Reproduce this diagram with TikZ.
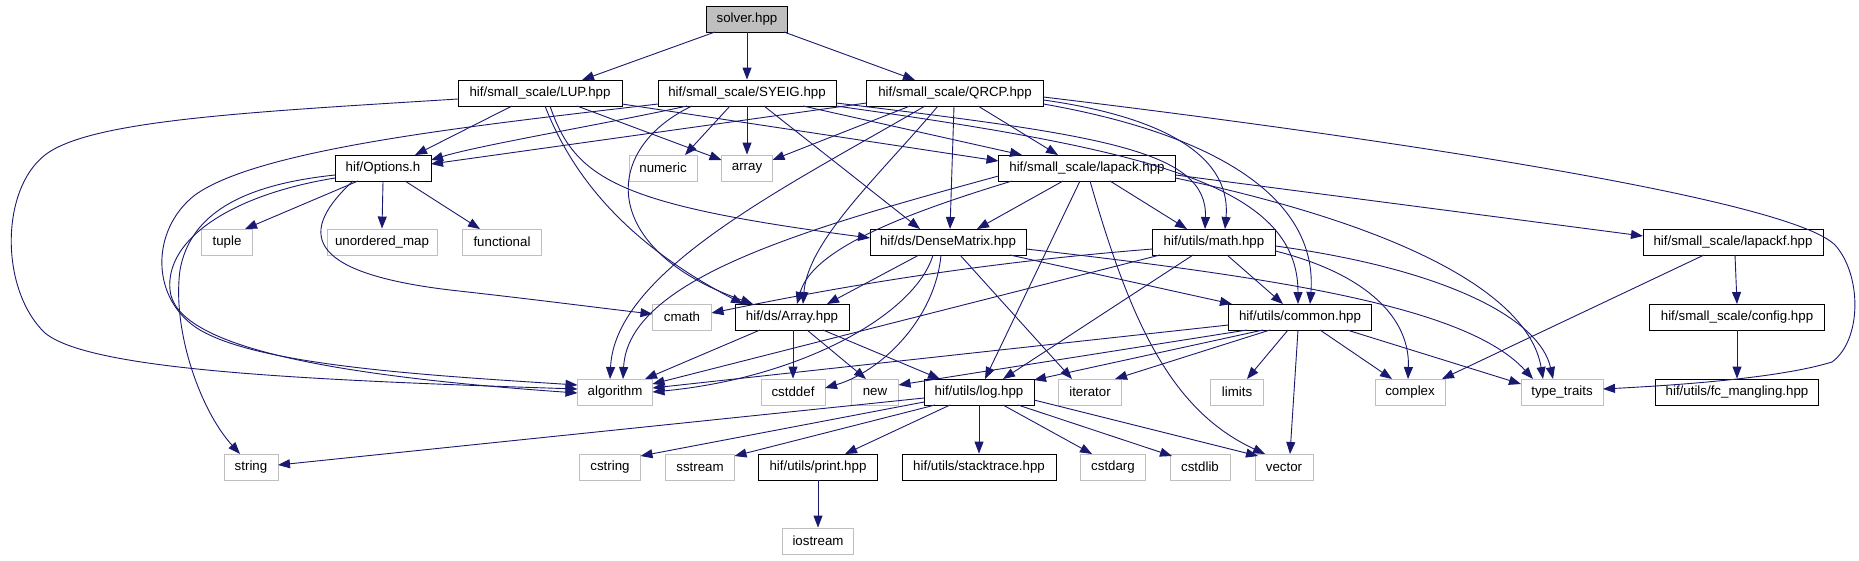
\documentclass[tikz,border=0pt]{standalone}
\usepackage{fontspec}
\setmainfont{Liberation Sans}
\usetikzlibrary{arrows.meta,calc}
\definecolor{edgeblue}{HTML}{191970}
\definecolor{boxgray}{HTML}{BFBFBF}
\newcommand\nodefs{\fontsize{13.3}{16}\selectfont}
\begin{document}
\begin{tikzpicture}[x=1pt,y=-1pt,
  base/.style={rectangle, minimum height=26pt, inner sep=0pt, font=\nodefs, line width=0.9pt},
  hdr/.style={base, draw=black, fill=white},
  sys/.style={base, draw=boxgray, fill=white},
  cur/.style={base, draw=black, fill=boxgray},
  dep/.style={draw=edgeblue, line width=0.9pt, -{Triangle[length=12pt,width=9pt]}}]
\useasboundingbox (0,0) rectangle (1859,560);
\fill[white] (0,0) rectangle (1859,560);

% nodes
\node[cur, minimum width=81] (solver) at (747,19) {solver.hpp};
\node[hdr, minimum width=164] (lup) at (540,93) {hif/small\_scale/LUP.hpp};
\node[hdr, minimum width=178] (syeig) at (747,93) {hif/small\_scale/SYEIG.hpp};
\node[hdr, minimum width=177] (qrcp) at (955,93) {hif/small\_scale/QRCP.hpp};
\node[hdr, minimum width=96] (opts) at (383,168) {hif/Options.h};
\node[sys, minimum width=68] (numeric) at (663,168) {numeric};
\node[sys, minimum width=51] (arr) at (747,168) {array};
\node[hdr, minimum width=177] (lapack) at (1087,168) {hif/small\_scale/lapack.hpp};
\node[sys, minimum width=51] (tuple) at (227,242) {tuple};
\node[sys, minimum width=110] (umap) at (382,242) {unordered\_map};
\node[sys, minimum width=79] (functional) at (502,242) {functional};
\node[hdr, minimum width=156] (dense) at (948,242) {hif/ds/DenseMatrix.hpp};
\node[hdr, minimum width=123] (mathh) at (1214,242) {hif/utils/math.hpp};
\node[hdr, minimum width=180] (lapackf) at (1733,242) {hif/small\_scale/lapackf.hpp};
\node[sys, minimum width=59] (cmath) at (682,317) {cmath};
\node[hdr, minimum width=114] (arrayh) at (792,317) {hif/ds/Array.hpp};
\node[hdr, minimum width=143] (common) at (1300,317) {hif/utils/common.hpp};
\node[hdr, minimum width=175] (config) at (1737,317) {hif/small\_scale/config.hpp};
\node[sys, minimum width=75] (algorithm) at (615,392) {algorithm};
\node[sys, minimum width=64] (cstddef) at (793,392) {cstddef};
\node[sys, minimum width=47] (cnew) at (875,392) {new};
\node[hdr, minimum width=110] (log) at (979,392) {hif/utils/log.hpp};
\node[sys, minimum width=63] (iterator) at (1090,392) {iterator};
\node[sys, minimum width=53] (limits) at (1237,392) {limits};
\node[sys, minimum width=70] (complex) at (1410,392) {complex};
\node[sys, minimum width=82] (typetraits) at (1562,392) {type\_traits};
\node[hdr, minimum width=163] (fcm) at (1737,392) {hif/utils/fc\_mangling.hpp};
\node[sys, minimum width=54] (string) at (251,467) {string};
\node[sys, minimum width=61] (cstring) at (610,467) {cstring};
\node[sys, minimum width=69] (sstream) at (700,467) {sstream};
\node[hdr, minimum width=119] (print) at (818,467) {hif/utils/print.hpp};
\node[hdr, minimum width=154] (stacktrace) at (979,467) {hif/utils/stacktrace.hpp};
\node[sys, minimum width=65] (cstdarg) at (1113,467) {cstdarg};
\node[sys, minimum width=60] (cstdlib) at (1200,467) {cstdlib};
\node[sys, minimum width=58] (vector) at (1284,467) {vector};
\node[sys, minimum width=71] (iostream) at (818,541) {iostream};

% solver
\draw[dep] ($(solver)+(-32,13)$) -- ($(lup)+(42,-13)$);
\draw[dep] (solver.south) -- (syeig.north);
\draw[dep] ($(solver)+(37,13)$) -- ($(qrcp)+(-40,-13)$);

% LUP
\draw[dep] ($(lup)+(-82,6)$) .. controls (250,112) and (90,120) .. (45,155)
  .. controls (0,190) and (0,290) .. (45,333)
  .. controls (90,370) and (300,380) .. ($(algorithm)+(-37.5,-3)$);
\draw[dep] ($(lup)+(-28,13)$) -- ($(opts)+(32,-13)$);
\draw[dep] ($(lup)+(5,13)$) .. controls (570,170) and (620,240) .. ($(arrayh)+(-49,-13)$);
\draw[dep] ($(lup)+(10,13)$) .. controls (575,180) and (620,205) .. ($(dense)+(-78,-4)$);
\draw[dep] ($(lup)+(37,13)$) -- ($(arr)+(-25.5,-8)$);
\draw[dep] ($(lup)+(82,11)$) -- ($(lapack)+(-88.5,-7)$);

% SYEIG
\draw[dep] ($(syeig)+(-60,13)$) .. controls (600,125) and (480,145) .. ($(opts)+(48,-8)$);
\draw[dep] ($(syeig)+(-89,11)$) .. controls (480,125) and (260,148) .. (195,195)
  .. controls (150,230) and (150,300) .. (200,330)
  .. controls (260,365) and (420,375) .. ($(algorithm)+(-37.5,-7)$);
\draw[dep] ($(syeig)+(-55,13)$) .. controls (600,150) and (600,250) .. ($(arrayh)+(-39,-13)$);
\draw[dep] ($(syeig)+(-17,13)$) -- ($(numeric)+(22,-13)$);
\draw[dep] (syeig.south) -- (arr.north);
\draw[dep] ($(syeig)+(17,13)$) -- ($(dense)+(-28,-13)$);
\draw[dep] ($(syeig)+(56,13)$) -- ($(lapack)+(-65,-13)$);
\draw[dep] ($(syeig)+(89,10)$) .. controls (1100,135) and (1208,150) .. ($(mathh)+(-9,-13)$);
\draw[dep] ($(syeig)+(89,13)$) .. controls (1150,150) and (1298,185) .. ($(common)+(-2,-13)$);

% QRCP
\draw[dep] ($(qrcp)+(-88.5,10)$) -- ($(opts)+(48,-4)$);
\draw[dep] ($(qrcp)+(-45,13)$) -- ($(arr)+(25.5,-8)$);
\draw[dep] ($(qrcp)+(-30,13)$) .. controls (790,185) and (615,270) .. ($(algorithm)+(-5,-13)$);
\draw[dep] ($(qrcp)+(-17,13)$) .. controls (880,175) and (808,240) .. ($(arrayh)+(11,-13)$);
\draw[dep] ($(qrcp)+(-1,13)$) -- ($(dense)+(2,-13)$);
\draw[dep] ($(qrcp)+(23,13)$) -- ($(lapack)+(-29,-13)$);
\draw[dep] ($(qrcp)+(88.5,7)$) .. controls (1150,115) and (1232,150) .. ($(mathh)+(11,-13)$);
\draw[dep] ($(qrcp)+(88.5,11)$) .. controls (1220,135) and (1318,200) .. ($(common)+(10,-13)$);
\draw[dep] ($(qrcp)+(88.5,4)$) .. controls (1400,140) and (1790,200) .. (1835,245)
  .. controls (1862,275) and (1862,340) .. (1832,362)
  .. controls (1780,378) and (1680,385) .. ($(typetraits)+(41,-3)$);

% Options.h
\draw[dep] ($(opts)+(-48,7)$) .. controls (240,185) and (190,215) .. (180,270)
  .. controls (172,330) and (200,410) .. ($(string)+(-11,-13)$);
\draw[dep] ($(opts)+(-48,10)$) .. controls (230,195) and (165,240) .. (170,290)
  .. controls (175,345) and (320,375) .. ($(algorithm)+(-37.5,1)$);
\draw[dep] ($(opts)+(-25,13)$) -- ($(tuple)+(18,-13)$);
\draw[dep] (opts.south) -- (umap.north);
\draw[dep] ($(opts)+(22,13)$) -- ($(functional)+(-22,-13)$);
\draw[dep] ($(opts)+(-30,13)$) .. controls (300,230) and (300,272) .. (450,290)
  .. controls (540,300) and (600,308) .. ($(cmath)+(-29.5,-3)$);

% lapack
\draw[dep] ($(lapack)+(-88.5,8)$) .. controls (800,230) and (628,280) .. ($(algorithm)+(8,-13)$);
\draw[dep] ($(lapack)+(-75,13)$) .. controls (900,215) and (812,250) .. ($(arrayh)+(5,-13)$);
\draw[dep] ($(lapack)+(-24,13)$) -- ($(dense)+(29,-13)$);
\draw[dep] ($(lapack)+(-7,13)$) -- ($(log)+(6,-13)$);
\draw[dep] ($(lapack)+(3,13)$) .. controls (1130,320) and (1170,410) .. ($(vector)+(-19,-13)$);
\draw[dep] ($(lapack)+(23,13)$) -- ($(mathh)+(-27,-13)$);
\draw[dep] ($(lapack)+(88.5,7)$) -- ($(lapackf)+(-90,-6)$);
\draw[dep] ($(lapack)+(88.5,10)$) .. controls (1420,230) and (1530,300) .. ($(typetraits)+(-19,-13)$);

% DenseMatrix
\draw[dep] ($(dense)+(-29,13)$) -- ($(arrayh)+(35,-13)$);
\draw[dep] ($(dense)+(-15,13)$) .. controls (915,315) and (800,378) .. ($(algorithm)+(37.5,0)$);
\draw[dep] ($(dense)+(-7,13)$) .. controls (935,320) and (880,372) .. ($(cstddef)+(32,-4)$);
\draw[dep] ($(dense)+(12,13)$) -- ($(iterator)+(-18,-13)$);
\draw[dep] ($(dense)+(62,13)$) -- ($(common)+(-68,-13)$);
\draw[dep] ($(dense)+(78,7)$) .. controls (1300,280) and (1470,310) .. ($(typetraits)+(-29,-13)$);

% math
\draw[dep] ($(mathh)+(-61.5,7)$) .. controls (950,265) and (800,295) .. ($(cmath)+(29.5,-4)$);
\draw[dep] ($(mathh)+(-54,13)$) -- ($(algorithm)+(37.5,-8)$);
\draw[dep] ($(mathh)+(-21,13)$) -- ($(log)+(24,-13)$);
\draw[dep] ($(mathh)+(13,13)$) -- ($(common)+(-17,-13)$);
\draw[dep] ($(mathh)+(61.5,9)$) .. controls (1370,275) and (1410,320) .. ($(complex)+(-2,-13)$);
\draw[dep] ($(mathh)+(61.5,4)$) .. controls (1450,270) and (1540,320) .. ($(typetraits)+(-9,-13)$);

% common
\draw[dep] ($(common)+(-71.5,8)$) -- ($(algorithm)+(37.5,-4)$);
\draw[dep] ($(common)+(-53,13)$) -- ($(cnew)+(23.5,-7)$);
\draw[dep] ($(common)+(-37,13)$) -- ($(log)+(55,-12)$);
\draw[dep] ($(common)+(-30,13)$) -- ($(iterator)+(25,-13)$);
\draw[dep] ($(common)+(-12,13)$) -- ($(limits)+(10,-13)$);
\draw[dep] ($(common)+(-2,13)$) -- ($(vector)+(6,-13)$);
\draw[dep] ($(common)+(20,13)$) -- ($(complex)+(-18,-13)$);
\draw[dep] ($(common)+(47,13)$) -- ($(typetraits)+(-41,-8)$);

% Array
\draw[dep] ($(arrayh)+(-32,13)$) -- ($(algorithm)+(30,-13)$);
\draw[dep] ($(arrayh)+(1,13)$) -- (cstddef.north);
\draw[dep] ($(arrayh)+(15,13)$) -- ($(cnew)+(-9,-13)$);
\draw[dep] ($(arrayh)+(31,13)$) -- ($(log)+(-39,-13)$);

% log
\draw[dep] ($(log)+(-55,6)$) -- ($(string)+(27,-2)$);
\draw[dep] ($(log)+(-55,10)$) -- ($(cstring)+(30.5,-11)$);
\draw[dep] ($(log)+(-44,13)$) -- ($(sstream)+(34.5,-11)$);
\draw[dep] ($(log)+(-29,13)$) -- ($(print)+(27,-13)$);
\draw[dep] (log.south) -- (stacktrace.north);
\draw[dep] ($(log)+(24,13)$) -- ($(cstdarg)+(-21,-13)$);
\draw[dep] ($(log)+(39,13)$) -- ($(cstdlib)+(-28,-11)$);
\draw[dep] ($(log)+(55,8)$) -- ($(vector)+(-26,-11)$);

% others
\draw[dep] (print.south) -- (iostream.north);
\draw[dep] ($(lapackf)+(2,13)$) -- ($(config)+(0,-13)$);
\draw[dep] ($(lapackf)+(-29,13)$) -- ($(complex)+(32,-13)$);
\draw[dep] (config.south) -- (fcm.north);
\end{tikzpicture}
\end{document}
